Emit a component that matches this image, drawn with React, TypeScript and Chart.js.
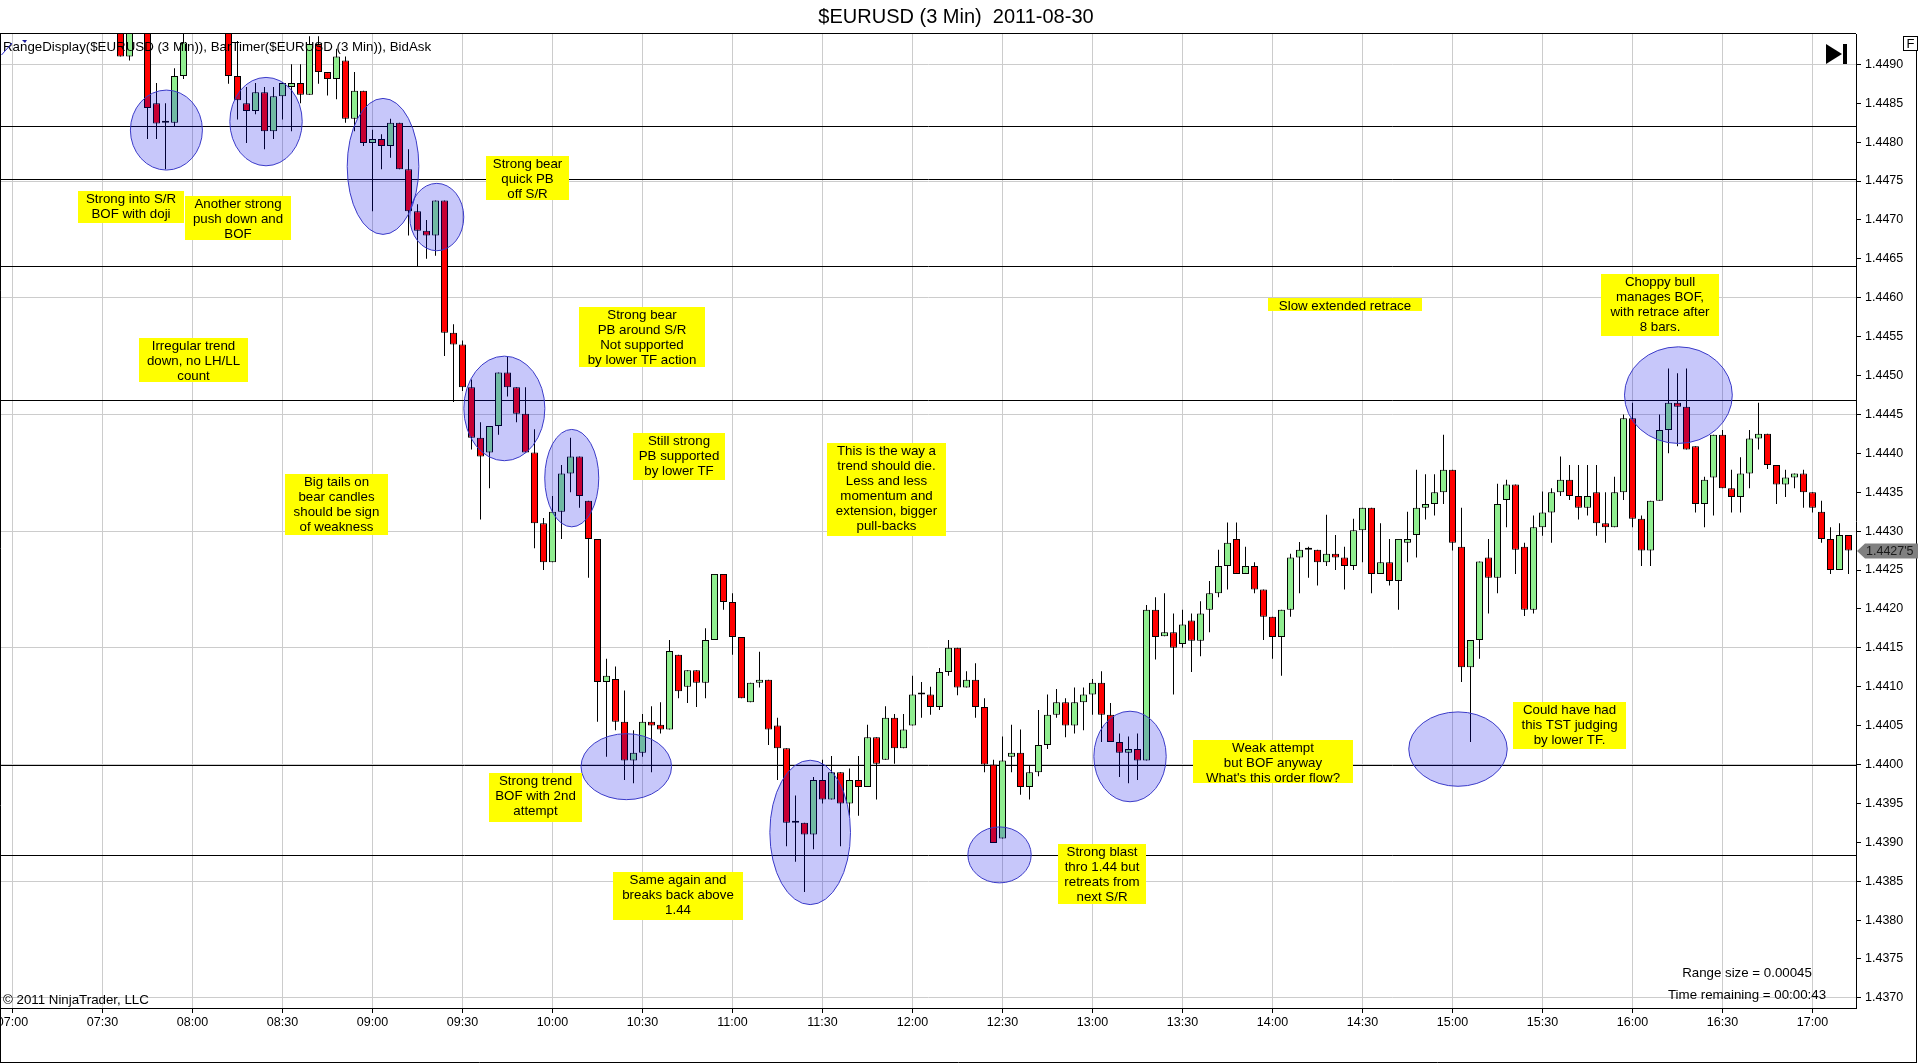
import React, { useEffect, useRef } from "react";
import { Chart, registerables } from "chart.js";

Chart.register(...registerables);

const FONT = "'Liberation Sans', Arial, sans-serif";

const chartTitle = "$EURUSD (3 Min)  2011-08-30";
const indicatorText = "RangeDisplay($EURUSD (3 Min)), BarTimer($EURUSD (3 Min)), BidAsk";
const copyrightText = "© 2011 NinjaTrader, LLC";
const rangeLines = ["Range size = 0.00045", "Time remaining = 00:00:43"];

const sessionStartMinutes = 7 * 60;
const barMinutes = 3;

// OHLC per 3-minute bar, starting 07:00
const opens = [
  1.4502, 1.4501, 1.45, 1.4499, 1.45, 1.4502, 1.4501, 1.4499, 1.4498, 1.4499,
  1.4498, 1.4497, 1.4496, 1.4491, 1.4497, 1.4499, 1.4485, 1.44825, 1.44825, 1.44885,
  1.44945, 1.4497, 1.4499, 1.4497, 1.4496, 1.44885, 1.4485, 1.4484, 1.44864, 1.44814,
  1.44859, 1.44871, 1.44876, 1.44861, 1.44926, 1.4489, 1.44881, 1.44905, 1.4483, 1.44866,
  1.44799, 1.44804, 1.44795, 1.44825, 1.44765, 1.44711, 1.44686, 1.4468, 1.44725, 1.44555,
  1.4454, 1.44485, 1.4442, 1.44401, 1.44435, 1.44504, 1.44485, 1.44451, 1.44401, 1.4431,
  1.4426, 1.44325, 1.44374, 1.44396, 1.44339, 1.4429, 1.44106, 1.4411, 1.44055, 1.44005,
  1.44015, 1.44055, 1.44051, 1.44045, 1.44141, 1.441, 1.44121, 1.44105, 1.4416, 1.44245,
  1.44209, 1.44164, 1.4408, 1.44105, 1.44109, 1.4405, 1.44021, 1.43925, 1.43925, 1.4391,
  1.4398, 1.43955, 1.4399, 1.4395, 1.4398, 1.43971, 1.44035, 1.44006, 1.4406, 1.44021,
  1.4405, 1.4409, 1.4409, 1.44074, 1.44119, 1.4415, 1.44099, 1.44109, 1.44074, 1.44,
  1.43905, 1.4401, 1.44015, 1.43971, 1.4399, 1.44025, 1.44064, 1.4408, 1.4405, 1.4408,
  1.4409, 1.44105, 1.44064, 1.44029, 1.44015, 1.4402, 1.44005, 1.44199, 1.44165, 1.4417,
  1.44155, 1.44185, 1.44159, 1.44199, 1.4422, 1.44255, 1.4429, 1.44245, 1.44255, 1.44225,
  1.4419, 1.44164, 1.44199, 1.44266, 1.44276, 1.44276, 1.4426, 1.44271, 1.44266, 1.44255,
  1.44301, 1.4433, 1.44245, 1.4426, 1.44236, 1.44285, 1.44295, 1.4433, 1.44335, 1.4435,
  1.44379, 1.4428, 1.44125, 1.4416, 1.44266, 1.4424, 1.4434, 1.4436, 1.4428, 1.44199,
  1.44305, 1.44324, 1.4435, 1.44366, 1.44345, 1.4433, 1.4435, 1.4431, 1.44305, 1.4435,
  1.44445, 1.44316, 1.44275, 1.44339, 1.4443, 1.44465, 1.4446, 1.44409, 1.44335, 1.44369,
  1.44424, 1.44355, 1.44344, 1.44374, 1.44419, 1.44425, 1.44385, 1.4436, 1.44369, 1.44374,
  1.4435, 1.44325, 1.4429, 1.4425, 1.44295,
];
const highs = [
  1.4504, 1.4503, 1.4502, 1.4501, 1.4503, 1.4504, 1.4502, 1.45, 1.45, 1.4501,
  1.4499, 1.4498, 1.4497, 1.4498, 1.4501, 1.45, 1.44876, 1.4485, 1.44895, 1.44945,
  1.4498, 1.4501, 1.4502, 1.4499, 1.4497, 1.4493, 1.44871, 1.44876, 1.44871, 1.44871,
  1.44876, 1.449, 1.449, 1.44936, 1.44936, 1.4489, 1.4492, 1.4491, 1.4489, 1.44866,
  1.44816, 1.4481, 1.4483, 1.44825, 1.44791, 1.4472, 1.447, 1.44725, 1.44725, 1.44566,
  1.44545, 1.44495, 1.4444, 1.44435, 1.44504, 1.44524, 1.44485, 1.44485, 1.44431, 1.44317,
  1.44345, 1.44385, 1.4442, 1.44396, 1.44339, 1.4429, 1.44136, 1.44126, 1.44095, 1.44044,
  1.44065, 1.44075, 1.4408, 1.4416, 1.44141, 1.44121, 1.44121, 1.44175, 1.44245, 1.44245,
  1.4422, 1.44164, 1.44105, 1.44145, 1.44109, 1.4406, 1.44021, 1.4396, 1.43925, 1.43984,
  1.44006, 1.44011, 1.4399, 1.43995, 1.44011, 1.44051, 1.44035, 1.44075, 1.44065, 1.44065,
  1.44114, 1.44106, 1.441, 1.44124, 1.4416, 1.4415, 1.4412, 1.4413, 1.44085, 1.44006,
  1.44036, 1.44051, 1.44045, 1.43999, 1.4407, 1.4409, 1.44097, 1.44085, 1.44099, 1.44099,
  1.4411, 1.4412, 1.44079, 1.4404, 1.44036, 1.4404, 1.44205, 1.44215, 1.4422, 1.44194,
  1.44199, 1.44194, 1.4421, 1.44236, 1.44276, 1.44311, 1.44311, 1.4428, 1.4426, 1.44225,
  1.4419, 1.44199, 1.44271, 1.44286, 1.4428, 1.44276, 1.44321, 1.44295, 1.4428, 1.44316,
  1.4433, 1.4433, 1.4431, 1.4429, 1.4429, 1.44325, 1.44379, 1.44373, 1.44373, 1.44424,
  1.44379, 1.4433, 1.4416, 1.44261, 1.4429, 1.44361, 1.44366, 1.4436, 1.44285, 1.4432,
  1.44351, 1.44355, 1.44396, 1.44385, 1.44385, 1.44385, 1.44385, 1.4435, 1.4437, 1.4445,
  1.44465, 1.4432, 1.44339, 1.4445, 1.44509, 1.44503, 1.44509, 1.44409, 1.4437, 1.44424,
  1.4443, 1.44379, 1.44395, 1.4443, 1.44465, 1.44425, 1.44385, 1.44379, 1.44374, 1.44379,
  1.4435, 1.44339, 1.44305, 1.4431, 1.44295,
];
const lows = [
  1.45, 1.4499, 1.4498, 1.4497, 1.4499, 1.45, 1.4498, 1.4497, 1.4496, 1.4497,
  1.4496, 1.4495, 1.4491, 1.44905, 1.4495, 1.44804, 1.44804, 1.44765, 1.4482, 1.44881,
  1.44942, 1.4495, 1.4496, 1.4495, 1.44875, 1.44829, 1.44799, 1.44836, 1.44791, 1.44804,
  1.44829, 1.44814, 1.4485, 1.44861, 1.44875, 1.4486, 1.44855, 1.44825, 1.44814, 1.44795,
  1.44711, 1.44765, 1.4478, 1.44765, 1.4468, 1.4464, 1.4465, 1.44654, 1.44525, 1.44466,
  1.4448, 1.44405, 1.44315, 1.44355, 1.44424, 1.44473, 1.4444, 1.44401, 1.44278, 1.4425,
  1.4426, 1.4429, 1.4435, 1.4433, 1.4424, 1.44055, 1.4401, 1.44044, 1.4398, 1.43976,
  1.4401, 1.4399, 1.4404, 1.44045, 1.44085, 1.44079, 1.44074, 1.44085, 1.4416, 1.44199,
  1.44141, 1.44085, 1.4408, 1.44099, 1.44025, 1.4398, 1.43895, 1.43875, 1.43836, 1.43891,
  1.4395, 1.43955, 1.43895, 1.43934, 1.43934, 1.43971, 1.43955, 1.44006, 1.44001, 1.44021,
  1.4405, 1.4406, 1.44064, 1.4407, 1.44114, 1.44089, 1.44099, 1.4406, 1.4399, 1.43899,
  1.43905, 1.4399, 1.43961, 1.43955, 1.43985, 1.4402, 1.4406, 1.44035, 1.4404, 1.44044,
  1.44064, 1.44029, 1.44029, 1.43984, 1.43976, 1.4398, 1.44005, 1.44135, 1.44165, 1.4409,
  1.4415, 1.44119, 1.44139, 1.4417, 1.44215, 1.44225, 1.44245, 1.44245, 1.4422, 1.4416,
  1.44136, 1.44114, 1.4419, 1.4422, 1.4424, 1.4423, 1.44255, 1.4425, 1.44225, 1.4425,
  1.4426, 1.4422, 1.44245, 1.4423, 1.44199, 1.4426, 1.44266, 1.44315, 1.4432, 1.44335,
  1.44275, 1.44106, 1.44029, 1.44136, 1.44194, 1.4422, 1.44305, 1.44245, 1.44191, 1.44194,
  1.44294, 1.44285, 1.44345, 1.4434, 1.44315, 1.4432, 1.44294, 1.44285, 1.44305, 1.4434,
  1.44305, 1.44255, 1.44255, 1.44339, 1.444, 1.44409, 1.44405, 1.44324, 1.44305, 1.4432,
  1.44355, 1.44324, 1.44324, 1.44355, 1.44405, 1.4438, 1.44335, 1.44344, 1.44355, 1.4433,
  1.44324, 1.44285, 1.44245, 1.4425, 1.44245,
];
const closes = [
  1.4501, 1.45, 1.4499, 1.45, 1.4502, 1.4501, 1.4499, 1.4498, 1.4499, 1.4498,
  1.4497, 1.4496, 1.4491, 1.4497, 1.4499, 1.44844, 1.44824, 1.44825, 1.44885, 1.44928,
  1.4497, 1.4499, 1.4497, 1.4496, 1.44885, 1.44854, 1.4484, 1.44864, 1.44814, 1.44859,
  1.44876, 1.44876, 1.44861, 1.44926, 1.4489, 1.44881, 1.4491, 1.4483, 1.44866, 1.44799,
  1.44804, 1.44795, 1.44825, 1.44765, 1.44711, 1.44686, 1.4468, 1.44725, 1.44555, 1.4454,
  1.44485, 1.4442, 1.44396, 1.44435, 1.44504, 1.44485, 1.44451, 1.44401, 1.4431, 1.4426,
  1.44325, 1.44374, 1.44396, 1.44345, 1.4429, 1.44106, 1.44114, 1.44055, 1.44005, 1.44015,
  1.44055, 1.4405, 1.44045, 1.44146, 1.44094, 1.44121, 1.44105, 1.4416, 1.44245, 1.44209,
  1.44164, 1.44085, 1.44105, 1.44109, 1.44045, 1.44021, 1.43925, 1.43925, 1.4391, 1.4398,
  1.43955, 1.4399, 1.4395, 1.4398, 1.43971, 1.44035, 1.44001, 1.4406, 1.44021, 1.44045,
  1.4409, 1.4409, 1.44074, 1.44119, 1.4415, 1.44099, 1.44109, 1.44074, 1.44, 1.43899,
  1.44005, 1.44015, 1.43971, 1.4399, 1.44025, 1.44064, 1.4408, 1.4405, 1.4408, 1.4409,
  1.44105, 1.44064, 1.44029, 1.44015, 1.4402, 1.44005, 1.44199, 1.44164, 1.4417, 1.4415,
  1.4418, 1.44159, 1.44194, 1.4422, 1.44255, 1.44285, 1.44245, 1.44255, 1.44225, 1.4419,
  1.44164, 1.44199, 1.44266, 1.44276, 1.44276, 1.4426, 1.44271, 1.44266, 1.44255, 1.44301,
  1.4433, 1.44245, 1.4426, 1.44236, 1.4429, 1.4429, 1.4433, 1.44335, 1.4435, 1.44379,
  1.44285, 1.44125, 1.4416, 1.44261, 1.4424, 1.44335, 1.4436, 1.44276, 1.44199, 1.44305,
  1.44324, 1.4435, 1.44366, 1.44345, 1.4433, 1.44345, 1.4431, 1.44305, 1.4435, 1.44445,
  1.44316, 1.44275, 1.44339, 1.4443, 1.44465, 1.4446, 1.44405, 1.44335, 1.44366, 1.44424,
  1.44355, 1.44344, 1.44374, 1.44419, 1.44425, 1.44385, 1.4436, 1.44369, 1.44374, 1.4435,
  1.4433, 1.4429, 1.4425, 1.44295, 1.44275,
];

// horizontal support / resistance lines
const srLevels = [1.44821, 1.44753, 1.44641, 1.44469, 1.44, 1.43884];

// annotation overlays in data coordinates (bar index, price)
const ellipses = [
  { x: 17.1, y: 1.448155, rx: 4.0, ry: 0.000514 },
  { x: 28.17, y: 1.448264, rx: 4.02, ry: 0.000568 },
  { x: 41.17, y: 1.447688, rx: 3.98, ry: 0.000874 },
  { x: 47.14, y: 1.447037, rx: 3.0, ry: 0.000433 },
  { x: 54.65, y: 1.444577, rx: 4.5, ry: 0.000672 },
  { x: 62.14, y: 1.443681, rx: 3.0, ry: 0.000626 },
  { x: 68.2, y: 1.439972, rx: 5.03, ry: 0.000424 },
  { x: 88.63, y: 1.439127, rx: 4.48, ry: 0.000928 },
  { x: 109.67, y: 1.438838, rx: 3.52, ry: 0.00036 },
  { x: 124.17, y: 1.440103, rx: 4.02, ry: 0.000582 },
  { x: 160.61, y: 1.440198, rx: 5.47, ry: 0.000478 },
  { x: 185.1, y: 1.444748, rx: 5.99, ry: 0.000621 },
];

const notes = [
  { x0: 7.26, x1: 19.11, top: 1.447371, bottom: 1.446963, lines: ["Strong into S/R", "BOF with doji"] },
  { x0: 19.22, x1: 30.89, top: 1.44731, bottom: 1.446741, lines: ["Another strong", "push down and", "BOF"] },
  { x0: 52.56, x1: 61.81, top: 1.447821, bottom: 1.447255, lines: ["Strong bear", "quick PB", "off S/R"] },
  { x0: 14.04, x1: 26.14, top: 1.445481, bottom: 1.444915, lines: ["Irregular trend", "down, no LH/LL", "count"] },
  { x0: 62.92, x1: 76.94, top: 1.445883, bottom: 1.445108, lines: ["Strong bear", "PB around S/R", "Not supported", "by lower TF action"] },
  { x0: 68.92, x1: 79.22, top: 1.444256, bottom: 1.443655, lines: ["Still strong", "PB supported", "by lower TF"] },
  { x0: 30.33, x1: 41.67, top: 1.443732, bottom: 1.442948, lines: ["Big tails on", "bear candles", "should be sign", "of weakness"] },
  { x0: 90.5, x1: 103.7, top: 1.444131, bottom: 1.442935, lines: ["This is the way a", "trend should die.", "Less and less", "momentum and", "extension, bigger", "pull-backs"] },
  { x0: 52.96, x1: 63.29, top: 1.439892, bottom: 1.439262, lines: ["Strong trend", "BOF with 2nd", "attempt"] },
  { x0: 66.67, x1: 81.22, top: 1.438615, bottom: 1.437998, lines: ["Same again and", "breaks back above", "1.44"] },
  { x0: 116.14, x1: 125.97, top: 1.438984, bottom: 1.438208, lines: ["Strong blast", "thro 1.44 but", "retreats from", "next S/R"] },
  { x0: 131.19, x1: 148.92, top: 1.440321, bottom: 1.439756, lines: ["Weak attempt", "but BOF anyway", "What's this order flow?"] },
  { x0: 139.49, x1: 156.63, top: 1.446, bottom: 1.445828, lines: ["Slow extended retrace"] },
  { x0: 166.74, x1: 179.33, top: 1.440805, bottom: 1.440193, lines: ["Could have had", "this TST judging", "by lower TF."] },
  { x0: 176.49, x1: 189.56, top: 1.446304, bottom: 1.445513, lines: ["Choppy bull", "manages BOF,", "with retrace after", "8 bars."] },
];

const UP = "#90ee90";
const DOWN = "#ff0000";
const GRID = "#cccccc";

const X_MIN = (1 - 12.5) / 9;
const X_MAX = (1856 - 12.5) / 9;
const Y_MAX = 1.44939;
const Y_MIN = 1.43687;

const pad2 = (n: number) => String(n).padStart(2, "0");
const timeLabel = (v: number) => {
  const m = sessionStartMinutes + barMinutes * Math.round(v);
  return `${pad2(Math.floor(m / 60))}:${pad2(m % 60)}`;
};

const priceLabel = (p: number) => {
  const s = p.toFixed(5);
  return `${s.slice(0, -1)}'${s.slice(-1)}`;
};

const overlayPlugin = {
  id: "ninjaOverlay",
  beforeDatasetsDraw(chart: any) {
    const { ctx, chartArea: a, scales } = chart;
    const y = scales.y;
    ctx.save();
    ctx.strokeStyle = "#000";
    ctx.lineWidth = 1;
    for (const lv of srLevels) {
      const py = Math.round(y.getPixelForValue(lv)) + 0.5;
      ctx.beginPath();
      ctx.moveTo(a.left, py);
      ctx.lineTo(a.right, py);
      ctx.stroke();
    }
    ctx.restore();
  },
  afterDatasetsDraw(chart: any) {
    const { ctx, chartArea: a, scales } = chart;
    const x = scales.x;
    const y = scales.y;
    ctx.save();
    ctx.beginPath();
    ctx.rect(a.left, a.top, a.right - a.left, a.bottom - a.top);
    ctx.clip();
    for (const e of ellipses) {
      const cx = x.getPixelForValue(e.x);
      const cy = y.getPixelForValue(e.y);
      const rx = Math.abs(x.getPixelForValue(e.x + e.rx) - cx);
      const ry = Math.abs(y.getPixelForValue(e.y + e.ry) - cy);
      ctx.beginPath();
      ctx.ellipse(cx, cy, rx, ry, 0, 0, Math.PI * 2);
      ctx.fillStyle = "rgba(0,0,230,0.22)";
      ctx.fill();
      ctx.strokeStyle = "#3a3ac8";
      ctx.lineWidth = 1;
      ctx.stroke();
    }
    ctx.font = `13.3px ${FONT}`;
    ctx.textAlign = "center";
    ctx.textBaseline = "middle";
    for (const n of notes) {
      const x0 = Math.round(x.getPixelForValue(n.x0));
      const x1 = Math.round(x.getPixelForValue(n.x1));
      const t = Math.round(y.getPixelForValue(n.top));
      const b = Math.round(y.getPixelForValue(n.bottom));
      ctx.fillStyle = "#ffff00";
      ctx.fillRect(x0, t, x1 - x0, b - t);
      ctx.fillStyle = "#000";
      n.lines.forEach((ln: string, k: number) => {
        ctx.fillText(ln, (x0 + x1) / 2, t + 8 + k * 15);
      });
    }
    ctx.restore();
  },
  afterDraw(chart: any) {
    const { ctx, chartArea: a, scales } = chart;
    const y = scales.y;
    ctx.save();
    // frame
    ctx.strokeStyle = "#000";
    ctx.lineWidth = 1;
    ctx.beginPath();
    ctx.moveTo(0, a.top - 0.5);
    ctx.lineTo(a.right, a.top - 0.5);
    ctx.moveTo(0.5, a.top - 0.5);
    ctx.lineTo(0.5, 1063);
    ctx.moveTo(0, 1062.5);
    ctx.lineTo(1917, 1062.5);
    ctx.moveTo(1916.5, 50);
    ctx.lineTo(1916.5, 1063);
    ctx.stroke();

    // title
    ctx.fillStyle = "#000";
    ctx.font = `20px ${FONT}`;
    ctx.textAlign = "center";
    ctx.textBaseline = "middle";
    ctx.fillText(chartTitle, 956, 17);

    // indicator line
    ctx.font = `13.3px ${FONT}`;
    ctx.textAlign = "left";
    ctx.fillText(indicatorText, 3, 47);

    // small drawing object at top-left
    ctx.strokeStyle = "#2a2ad0";
    ctx.beginPath();
    ctx.moveTo(1.5, 55);
    ctx.lineTo(12, 43);
    ctx.stroke();
    ctx.fillStyle = "#1a1a9a";
    ctx.beginPath();
    ctx.moveTo(22, 40);
    ctx.lineTo(27, 40);
    ctx.lineTo(25, 43);
    ctx.closePath();
    ctx.fill();

    // copyright
    ctx.fillStyle = "#000";
    ctx.font = `13.3px ${FONT}`;
    ctx.textAlign = "left";
    ctx.fillText(copyrightText, 3, 1000);

    // range info
    ctx.textAlign = "center";
    ctx.fillText(rangeLines[0], 1747, 973);
    ctx.fillText(rangeLines[1], 1747, 995);

    // play-to-end icon
    ctx.beginPath();
    ctx.moveTo(1826, 44);
    ctx.lineTo(1826, 64);
    ctx.lineTo(1842, 54);
    ctx.closePath();
    ctx.fill();
    ctx.fillRect(1843, 44, 4, 20);

    // F box
    ctx.fillStyle = "#fff";
    ctx.fillRect(1903.5, 36.5, 14, 14);
    ctx.strokeStyle = "#000";
    ctx.strokeRect(1903.5, 36.5, 14, 14);
    ctx.fillStyle = "#000";
    ctx.font = `13px ${FONT}`;
    ctx.textAlign = "center";
    ctx.fillText("F", 1910.5, 44);

    // last price marker
    const last = closes[closes.length - 1];
    const py = Math.round(y.getPixelForValue(last));
    ctx.fillStyle = "#808080";
    ctx.beginPath();
    ctx.moveTo(1857, py);
    ctx.lineTo(1865, py - 7.5);
    ctx.lineTo(1918, py - 7.5);
    ctx.lineTo(1918, py + 7.5);
    ctx.lineTo(1865, py + 7.5);
    ctx.closePath();
    ctx.fill();
    ctx.fillStyle = "#1a1a1a";
    ctx.font = `12.5px ${FONT}`;
    ctx.textAlign = "left";
    ctx.fillText(priceLabel(last), 1866, py + 0.5);
    ctx.restore();
  },
};

export default function App() {
  const ref = useRef<HTMLCanvasElement | null>(null);

  useEffect(() => {
    const canvas = ref.current;
    if (!canvas) return;
    const idx = opens.map((_, i) => i);
    const bodyData = idx.map((i) => ({ x: i, y: [opens[i], closes[i]] }));
    const wickData = idx.map((i) => ({ x: i, y: [lows[i], highs[i]] }));
    const bodyColors = idx.map((i) => (closes[i] >= opens[i] ? UP : DOWN));

    const chart = new Chart(canvas, {
      type: "bar",
      data: {
        datasets: [
          {
            label: "body",
            data: bodyData as any,
            backgroundColor: bodyColors,
            borderColor: "#000",
            borderWidth: 1,
            borderSkipped: false,
            barThickness: 7,
            minBarLength: 2,
            grouped: false,
            inflateAmount: 0,
          } as any,
          {
            label: "wick",
            data: wickData as any,
            backgroundColor: "#000",
            borderWidth: 0,
            barThickness: 1,
            grouped: false,
            inflateAmount: 0,
          } as any,
        ],
      },
      options: {
        responsive: false,
        animation: false,
        devicePixelRatio: 1,
        events: [],
        layout: { padding: { left: 1, top: 34, right: 0, bottom: 0 } },
        plugins: {
          legend: { display: false },
          tooltip: { enabled: false },
          title: { display: false },
        },
        scales: {
          x: {
            type: "linear",
            min: X_MIN,
            max: X_MAX,
            offset: false,
            afterFit: (s: any) => {
              s.height = 56;
              s.paddingLeft = 0;
              s.paddingRight = 0;
            },
            ticks: {
              stepSize: 10,
              includeBounds: false,
              autoSkip: false,
              maxRotation: 0,
              padding: 2,
              color: "#000",
              font: { family: FONT, size: 12.5 },
              callback: (v: any) => timeLabel(Number(v)),
            },
            grid: { color: GRID, tickColor: "#000", tickLength: 5, lineWidth: 1, offset: false },
            border: { color: "#000", width: 1 },
          } as any,
          y: {
            type: "linear",
            position: "right",
            min: Y_MIN,
            max: Y_MAX,
            afterFit: (s: any) => {
              s.width = 64;
            },
            ticks: {
              stepSize: 0.0005,
              includeBounds: false,
              padding: 4,
              color: "#000",
              font: { family: FONT, size: 12.5 },
              callback: (v: any) => Number(v).toFixed(4),
            },
            grid: {
              color: (c: any) => {
                const v = c.tick ? c.tick.value : NaN;
                const k = (v - 1.437) / 0.0015;
                return Math.abs(k - Math.round(k)) < 1e-4 ? GRID : "rgba(0,0,0,0)";
              },
              tickColor: "#000",
              tickLength: 5,
            },
            border: { color: "#000", width: 1 },
          } as any,
        },
      } as any,
      plugins: [overlayPlugin as any],
    });
    return () => chart.destroy();
  }, []);

  return (
    <div style={{ position: "fixed", left: 0, top: 0, width: 1920, height: 1064, background: "#fff" }}>
      <canvas ref={ref} width={1920} height={1064} style={{ display: "block", width: 1920, height: 1064 }} />
    </div>
  );
}
